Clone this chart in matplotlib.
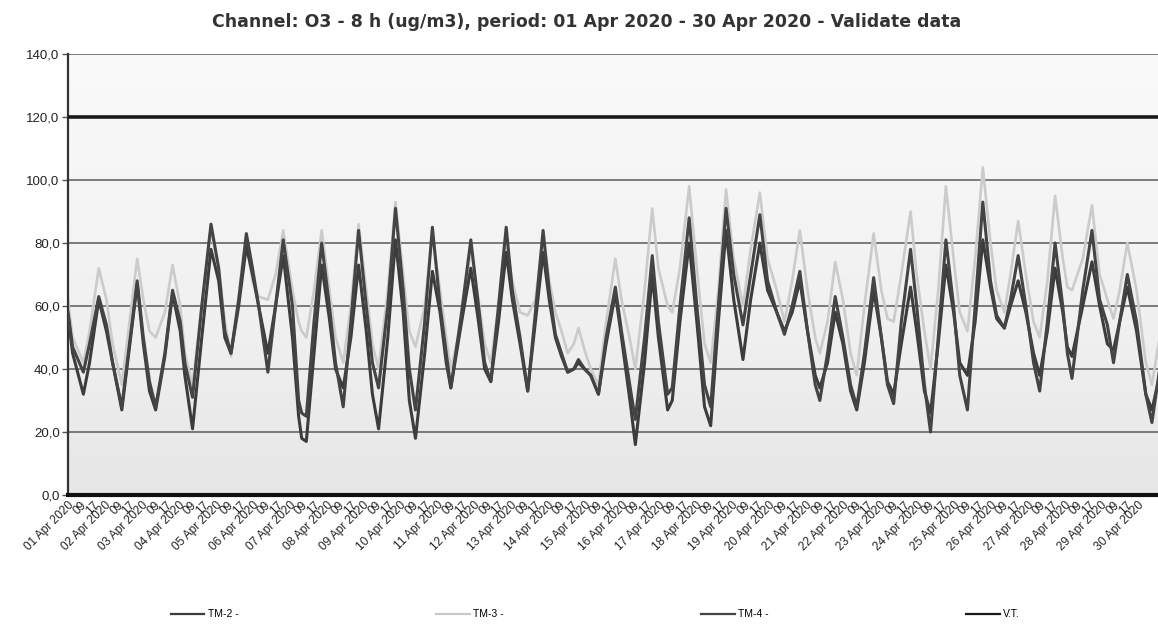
# O3 8h moving average, April 2020 - redraw of the scanned chart
import numpy as np
import matplotlib
matplotlib.use("Agg")
import matplotlib.pyplot as plt
from matplotlib.lines import Line2D

# 读数: hours since 01 Apr 2020 00:00
hours = [
    0, 3, 10, 14, 20, 25, 29, 35, 40, 45,
    49, 53, 57, 63, 68, 73, 76, 81, 87, 93,
    98, 102, 106, 111, 116, 120, 124, 130, 135, 140,
    146, 150, 152, 155, 160, 165, 170, 174, 179, 184,
    189, 194, 198, 202, 208, 213, 218, 222, 226, 232,
    237, 242, 246, 249, 256, 262, 267, 271, 275, 280,
    285, 289, 294, 299, 304, 309, 313, 317, 321, 325,
    329, 332, 336, 340, 345, 350, 356, 360, 366, 369,
    375, 380, 384, 390, 393, 398, 404, 409, 414, 418,
    423, 428, 433, 439, 444, 450, 455, 461, 466, 471,
    476, 481, 486, 489, 494, 499, 504, 509, 513, 518,
    524, 529, 533, 537, 542, 548, 552, 557, 561, 566,
    571, 576, 580, 585, 590, 595, 600, 604, 609, 613,
    618, 623, 628, 632, 637, 642, 647, 650, 653, 660,
    666, 671, 676, 680, 684, 689, 695, 701, 705, 710,
    715,
]

tm4 = [
    58, 47, 39, 48, 63, 54, 42, 28, 48, 68,
    50, 36, 28, 45, 65, 55, 42, 31, 60, 86,
    72, 52, 45, 62, 83, 72, 60, 39, 60, 81,
    60, 30, 26, 25, 55, 80, 60, 42, 28, 55,
    84, 60, 42, 34, 60, 91, 65, 40, 27, 55,
    85, 60, 45, 34, 58, 81, 60, 42, 36, 60,
    85, 65, 50, 33, 58, 84, 65, 51, 45, 39,
    40, 43, 40, 38, 32, 50, 66, 52, 33, 24,
    50, 76, 55, 32, 34, 60, 88, 60, 35, 28,
    60, 91, 70, 54, 70, 89, 68, 58, 51, 60,
    71, 52, 35, 30, 45, 63, 50, 35, 28, 45,
    69, 50, 35, 29, 55, 78, 60, 35, 20, 50,
    81, 60, 38, 27, 60, 93, 68, 57, 53, 62,
    76, 60, 42, 33, 55, 80, 60, 45, 37, 65,
    84, 62, 54, 42, 55, 70, 55, 32, 23, 40,
    55,
]

tm2 = [
    57, 45, 32, 42, 62, 52, 42, 27, 47, 67,
    48, 33, 27, 44, 64, 52, 38, 21, 50, 78,
    68, 50, 45, 60, 79, 70, 60, 45, 60, 76,
    50, 25, 18, 17, 45, 73, 56, 40, 34, 50,
    73, 52, 32, 21, 50, 81, 58, 30, 18, 45,
    71, 58, 42, 34, 55, 72, 55, 40, 36, 55,
    77, 62, 48, 33, 55, 77, 62, 50, 44, 39,
    40, 42, 40, 38, 32, 48, 64, 50, 28, 16,
    42, 70, 50, 27, 30, 55, 80, 55, 28, 22,
    55, 84, 62, 43, 62, 80, 65, 58, 52, 58,
    68, 52, 38, 34, 42, 58, 48, 33, 27, 42,
    65, 50, 36, 32, 48, 66, 52, 33, 26, 48,
    73, 58, 42, 38, 55, 81, 66, 56, 53, 60,
    68, 58, 45, 38, 52, 72, 58, 47, 44, 60,
    74, 60, 48, 46, 55, 66, 52, 32, 27, 38,
    50,
]

tm3 = [
    62, 50, 42, 52, 72, 62, 48, 35, 55, 75,
    62, 52, 50, 58, 73, 60, 45, 35, 60, 84,
    72, 55, 44, 62, 80, 68, 63, 62, 70, 84,
    65, 55, 52, 50, 65, 84, 65, 50, 42, 60,
    86, 65, 48, 40, 65, 93, 70, 52, 47, 60,
    83, 65, 50, 40, 55, 78, 62, 48, 42, 60,
    80, 68, 58, 57, 62, 82, 68, 58, 52, 45,
    48, 53, 46, 40, 35, 55, 75, 62, 48, 40,
    65, 91, 72, 60, 58, 72, 98, 72, 48, 42,
    65, 97, 75, 60, 78, 96, 75, 65, 55, 68,
    84, 65, 50, 45, 55, 74, 62, 45, 38, 60,
    83, 65, 56, 55, 70, 90, 70, 52, 40, 65,
    98, 75, 58, 52, 75, 104, 80, 65, 58, 70,
    87, 70, 55, 50, 68, 95, 75, 66, 65, 75,
    92, 70, 62, 56, 65, 80, 65, 42, 35, 50,
    62,
]

vt_value = 120
n_days = 30
y_ticks = [0, 20, 40, 60, 80, 100, 120, 140]

# x 刻度: every 8 hours, date at hour 01, then "09" and "17"
# (the scan is cropped, so stop at the last label that is still visible)
tick_pos = np.arange(0, 697, 8)
tick_lab = []
for t in tick_pos:
    day = t // 24 + 1
    if t % 24 == 0:
        tick_lab.append(f"{day:02d} Apr 2020")
    else:
        tick_lab.append(f"{t % 24 + 1:02d}")

fig = plt.figure(figsize=(11.58, 6.28), dpi=100)
# axes runs past the right edge, like the cropped scan
ax = fig.add_axes([68 / 1158, 1 - 495 / 628, 1107 / 1158, 441 / 628])

# light grey gradient background
grad = np.linspace(0, 1, 256).reshape(-1, 1)
ax.imshow(grad, extent=[0, 1, 0, 1], transform=ax.transAxes, aspect="auto",
          cmap="Greys", vmin=-0.3, vmax=7, zorder=0, origin="upper")

for v in y_ticks[1:]:
    ax.axhline(v, color="#5a5a5a", lw=1.1, zorder=1)

ax.plot(hours, tm3, color="#cbcbcb", lw=1.9, zorder=2, label="TM-3 -")
ax.plot(hours, tm2, color="#3c3c3c", lw=2.2, zorder=3, label="TM-2 -")
ax.plot(hours, tm4, color="#444444", lw=2.2, zorder=3, label="TM-4 -")
ax.axhline(vt_value, color="#1a1a1a", lw=2.6, zorder=4)

ax.set_xlim(0, n_days * 24)
ax.set_ylim(0, 140)
ax.set_yticks(y_ticks)
ax.set_yticklabels([f"{v:.1f}".replace(".", ",") for v in y_ticks],
                   fontsize=9.5, family="Liberation Sans", color="#222222")
ax.set_xticks(tick_pos)
ax.set_xticklabels(tick_lab, rotation=45, ha="right", rotation_mode="anchor",
                   fontsize=8.6, family="Liberation Sans", color="#222222")
ax.tick_params(axis="x", length=0, pad=3)
ax.tick_params(axis="y", length=4, width=1, color="#555555", pad=2)

for s in ["top", "right"]:
    ax.spines[s].set_visible(False)
ax.spines["left"].set_color("#333333")
ax.spines["left"].set_linewidth(1.6)
ax.spines["bottom"].set_color("#111111")
ax.spines["bottom"].set_linewidth(3)

fig.text(587 / 1158, 0.965, "Channel: O3 - 8 h (ug/m3), period: 01 Apr 2020 - 30 Apr 2020 - Validate data",
         ha="center", va="center", fontsize=12.5, fontweight="bold", color="#333333")

handles = [
    Line2D([], [], color="#3c3c3c", lw=1.6),
    Line2D([], [], color="#c9c9c9", lw=1.6),
    Line2D([], [], color="#444444", lw=1.6),
    Line2D([], [], color="#1a1a1a", lw=1.6),
]
fig.legend(handles, ["TM-2 -", "TM-3 -", "TM-4 -", "V.T."], loc="center",
           bbox_to_anchor=(0.514, 0.022), ncol=4, frameon=False,
           handlelength=3.2, handletextpad=0.3, columnspacing=19,
           prop={"family": "Liberation Sans", "size": 7.5})

fig.savefig("out.png", dpi=100)
